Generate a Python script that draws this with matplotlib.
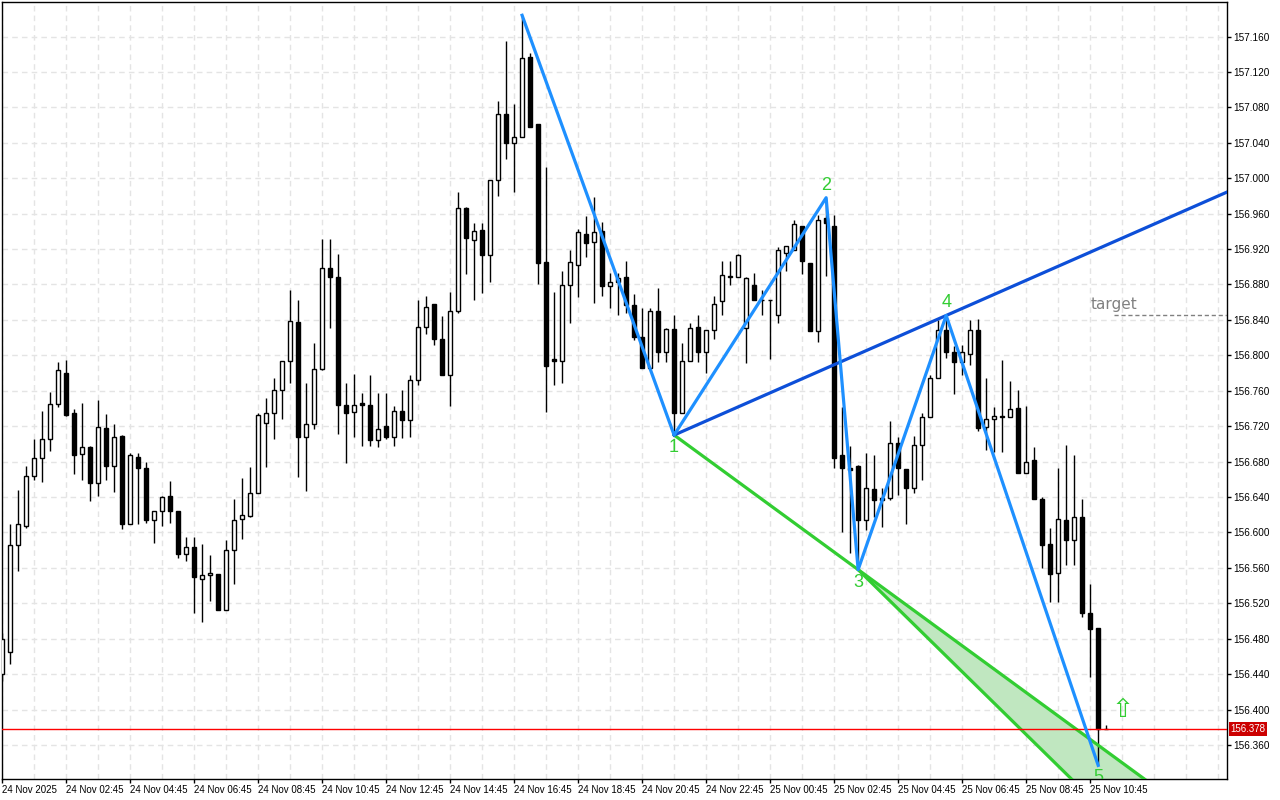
import matplotlib
matplotlib.use("Agg")
import matplotlib.pyplot as plt
import numpy as np

# M15 bars, index -1 = 24 Nov 00:45
first_bar = -1
opens = [156.440, 156.465, 156.586, 156.607, 156.664, 156.684, 156.705, 156.745, 156.780, 156.735,
         156.689, 156.696, 156.656, 156.718, 156.675, 156.709, 156.610, 156.685, 156.673, 156.614,
         156.624, 156.641, 156.624, 156.576, 156.584, 156.548, 156.552, 156.553, 156.513, 156.580,
         156.615, 156.619, 156.644, 156.724, 156.735, 156.761, 156.794, 156.838, 156.708, 156.723,
         156.785, 156.899, 156.889, 156.744, 156.736, 156.746, 156.744, 156.704, 156.720, 156.708,
         156.737, 156.727, 156.772, 156.832, 156.858, 156.819, 156.778, 156.850, 156.966, 156.930,
         156.941, 156.913, 156.998, 157.073, 157.040, 157.047, 157.137, 157.061, 156.905, 156.796,
         156.794, 156.879, 156.902, 156.937, 156.928, 156.940, 156.878, 156.883, 156.888, 156.857,
         156.821, 156.786, 156.850, 156.804, 156.830, 156.735, 156.794, 156.832, 156.804, 156.829,
         156.861, 156.889, 156.889, 156.831, 156.879, 156.863, 156.863, 156.846, 156.916, 156.919,
         156.946, 156.904, 156.827, 156.955, 156.946, 156.687, 156.673, 156.675, 156.614, 156.649,
         156.637, 156.639, 156.701, 156.672, 156.650, 156.699, 156.730, 156.774, 156.829, 156.804,
         156.793, 156.802, 156.829, 156.719, 156.728, 156.731, 156.730, 156.740, 156.667, 156.682,
         156.638, 156.587, 156.554, 156.614, 156.591, 156.617, 156.509, 156.492, 156.378]
highs = [156.486, 156.610, 156.648, 156.675, 156.705, 156.737, 156.759, 156.793, 156.795, 156.739,
         156.746, 156.698, 156.750, 156.734, 156.723, 156.710, 156.690, 156.690, 156.679, 156.624,
         156.641, 156.658, 156.624, 156.595, 156.595, 156.587, 156.574, 156.553, 156.591, 156.638,
         156.661, 156.674, 156.735, 156.752, 156.774, 156.794, 156.874, 156.863, 156.769, 156.814,
         156.931, 156.931, 156.914, 156.769, 156.779, 156.757, 156.778, 156.758, 156.757, 156.743,
         156.761, 156.778, 156.863, 156.867, 156.858, 156.844, 156.871, 156.984, 156.968, 156.950,
         156.950, 156.998, 157.087, 157.155, 157.084, 157.184, 157.141, 157.061, 157.013, 156.872,
         156.895, 156.919, 156.943, 156.957, 156.979, 156.951, 156.893, 156.893, 156.907, 156.869,
         156.853, 156.853, 156.876, 156.831, 156.845, 156.814, 156.837, 156.845, 156.829, 156.867,
         156.907, 156.907, 156.915, 156.889, 156.893, 156.874, 156.863, 156.922, 156.924, 156.953,
         156.946, 156.904, 156.959, 156.978, 156.959, 156.742, 156.698, 156.676, 156.690, 156.688,
         156.650, 156.726, 156.708, 156.672, 156.709, 156.735, 156.778, 156.840, 156.846, 156.810,
         156.812, 156.840, 156.841, 156.774, 156.742, 156.795, 156.771, 156.761, 156.743, 156.696,
         156.640, 156.605, 156.673, 156.699, 156.688, 156.638, 156.542, 156.492, 156.383]
lows = [156.432, 156.452, 156.556, 156.605, 156.659, 156.657, 156.692, 156.742, 156.732, 156.666,
        156.659, 156.635, 156.641, 156.659, 156.646, 156.604, 156.609, 156.609, 156.611, 156.588,
        156.607, 156.611, 156.571, 156.568, 156.509, 156.499, 156.523, 156.513, 156.513, 156.542,
        156.593, 156.618, 156.644, 156.674, 156.706, 156.728, 156.769, 156.663, 156.647, 156.717,
        156.784, 156.831, 156.711, 156.678, 156.708, 156.698, 156.698, 156.697, 156.706, 156.698,
        156.707, 156.708, 156.767, 156.824, 156.812, 156.778, 156.743, 156.848, 156.892, 156.863,
        156.870, 156.883, 156.980, 157.022, 156.984, 157.046, 157.058, 156.880, 156.736, 156.766,
        156.769, 156.837, 156.866, 156.911, 156.859, 156.867, 156.854, 156.845, 156.848, 156.817,
        156.786, 156.786, 156.792, 156.793, 156.710, 156.735, 156.794, 156.793, 156.780, 156.819,
        156.845, 156.879, 156.889, 156.791, 156.862, 156.846, 156.796, 156.837, 156.895, 156.919,
        156.892, 156.827, 156.815, 156.890, 156.673, 156.600, 156.577, 156.558, 156.603, 156.617,
        156.606, 156.637, 156.642, 156.609, 156.645, 156.659, 156.730, 156.774, 156.797, 156.756,
        156.778, 156.789, 156.715, 156.693, 156.691, 156.691, 156.730, 156.667, 156.667, 156.638,
        156.560, 156.522, 156.522, 156.563, 156.563, 156.504, 156.437, 156.337, 156.378]
closes = [156.480, 156.586, 156.609, 156.664, 156.684, 156.705, 156.745, 156.783, 156.733, 156.688,
          156.697, 156.656, 156.719, 156.675, 156.708, 156.610, 156.687, 156.673, 156.614, 156.624,
          156.640, 156.624, 156.576, 156.584, 156.550, 156.552, 156.554, 156.513, 156.580, 156.614,
          156.620, 156.644, 156.733, 156.735, 156.761, 156.794, 156.839, 156.708, 156.723, 156.785,
          156.899, 156.889, 156.744, 156.735, 156.744, 156.744, 156.704, 156.717, 156.708, 156.737,
          156.727, 156.772, 156.832, 156.855, 156.818, 156.778, 156.850, 156.966, 156.932, 156.940,
          156.913, 156.998, 157.073, 157.040, 157.047, 157.136, 157.058, 156.904, 156.788, 156.794,
          156.879, 156.905, 156.939, 156.927, 156.939, 156.878, 156.883, 156.887, 156.857, 156.821,
          156.786, 156.850, 156.804, 156.830, 156.735, 156.794, 156.831, 156.804, 156.829, 156.858,
          156.891, 156.890, 156.913, 156.887, 156.862, 156.862, 156.862, 156.919, 156.923, 156.948,
          156.906, 156.828, 156.953, 156.949, 156.684, 156.673, 156.671, 156.614, 156.650, 156.637,
          156.639, 156.701, 156.673, 156.650, 156.699, 156.730, 156.774, 156.829, 156.804, 156.792,
          156.804, 156.829, 156.718, 156.728, 156.731, 156.730, 156.739, 156.667, 156.679, 156.638,
          156.586, 156.553, 156.615, 156.591, 156.618, 156.509, 156.491, 156.378, 156.378]

# zigzag pivots: start, 1, 2, 3, 4, 5
zz_bars = [64, 83, 102, 106, 117, 136]
zz_prices = [157.184, 156.710, 156.978, 156.558, 156.845, 156.337]
wave_names = ["1", "2", "3", "4", "5"]
wave_below = [True, False, True, False, True]

target_price = 156.845
target_bar = 135
last_price = 156.378
signal_bar = 139
signal_price = 156.400

tick_bars = [-1, 7, 15, 23, 31, 39, 47, 55, 63, 71, 79, 87, 95, 103, 111, 119, 127, 135]
tick_labels = ["24 Nov 2025", "24 Nov 02:45", "24 Nov 04:45", "24 Nov 06:45", "24 Nov 08:45",
               "24 Nov 10:45", "24 Nov 12:45", "24 Nov 14:45", "24 Nov 16:45", "24 Nov 18:45",
               "24 Nov 20:45", "24 Nov 22:45", "25 Nov 00:45", "25 Nov 02:45", "25 Nov 04:45",
               "25 Nov 06:45", "25 Nov 08:45", "25 Nov 10:45"]

xmin, xmax = -1.0, 152.1
ymin, ymax = 156.3216, 157.199

o = np.array(opens); h = np.array(highs); l = np.array(lows); c = np.array(closes)
bars = np.arange(first_bar, first_bar + len(o))

fig = plt.figure(figsize=(12.8, 8), dpi=100)
ax = fig.add_axes([2/1280, 21/800, 1225/1280, 777/800])

# grid
for gx in np.arange(-1, 153, 4):
    ax.axvline(gx, color="#e4e4e4", lw=1, ls=(0, (4, 3)), zorder=0)
for gy in np.arange(156.36, 157.2, 0.04):
    ax.axhline(gy, color="#e4e4e4", lw=1, ls=(0, (4, 3)), zorder=0)

# wolfe channel fill
p1, p2, p3, p4 = [(zz_bars[i], zz_prices[i]) for i in range(1, 5)]
s13 = (p3[1] - p1[1]) / (p3[0] - p1[0])
s24 = (p4[1] - p2[1]) / (p4[0] - p2[0])
s14 = (p4[1] - p1[1]) / (p4[0] - p1[0])
xf = np.linspace(p3[0], xmax + 5, 50)
up_edge = p3[1] + s13 * (xf - p3[0])
lo_edge = p3[1] + s24 * (xf - p3[0])
ax.fill_between(xf, lo_edge, up_edge, color="#c0e7c0", lw=0, zorder=1)

# candles
up = c >= o
ax.vlines(bars, l, h, color="black", lw=1, zorder=2)
ax.bar(bars[up], (c - o)[up], bottom=o[up], width=0.55, facecolor="white",
       edgecolor="black", lw=1, zorder=3)
ax.bar(bars[~up], (o - c)[~up], bottom=c[~up], width=0.55, facecolor="black",
       edgecolor="black", lw=1, zorder=3)

# green lines 1-3 extended and parallel of 2-4 through 3
x13 = np.array([p1[0], xmax + 5])
ax.plot(x13, p1[1] + s13 * (x13 - p1[0]), color="#32cd32", lw=2.3, zorder=4)
ax.plot(xf, lo_edge, color="#32cd32", lw=2.3, zorder=4)

# 1-4 line
x14 = np.array([p1[0], xmax + 5])
ax.plot(x14, p1[1] + s14 * (x14 - p1[0]), color="#0d4fd8", lw=2.3, zorder=5)

# zigzag
ax.plot(zz_bars, zz_prices, color="#1e90ff", lw=2.3, zorder=6)

for name, bx, py, below in zip(wave_names, zz_bars[1:], zz_prices[1:], wave_below):
    ax.annotate(name, (bx, py), xytext=(0, -9 if below else 9), textcoords="offset points",
                ha="center", va="center", color="#32cd32", fontsize=13,
                family="Liberation Sans", zorder=7, annotation_clip=False, clip_on=True)

# target
ax.plot([target_bar + 3, xmax], [target_price, target_price], color="#808080", lw=1,
        ls=(0, (3, 2)), zorder=4)
ax.annotate("target", (target_bar, target_price), xytext=(0, 8), textcoords="offset points",
            ha="left", va="center", color="#808080", fontsize=11, family="DejaVu Sans")

# current price
ax.axhline(last_price, color="red", lw=1, zorder=5)
ax.annotate("%.3f" % last_price, xy=(1, last_price), xycoords=("axes fraction", "data"),
            xytext=(2.5, 0), textcoords="offset points", ha="left", va="center",
            color="white", fontsize=7, family="Liberation Sans",
            bbox=dict(boxstyle="square,pad=0.2", fc="#cc0000", ec="none"), annotation_clip=False)

# signal arrow
ax.text(signal_bar, signal_price, "\u21e7", color="#32cd32", fontsize=19, ha="center",
        va="center", family="DejaVu Sans", zorder=7)

ax.set_xlim(xmin, xmax)
ax.set_ylim(ymin, ymax)

ax.yaxis.tick_right()
yt = np.arange(156.36, 157.161, 0.04)
ax.set_yticks(yt)
ax.set_yticklabels(["%.3f" % v for v in yt], family="Liberation Sans", fontsize=7.2)
ax.set_xticks(tick_bars)
ax.set_xticklabels(tick_labels, family="Liberation Sans", fontsize=7)
for lab in ax.get_xticklabels():
    lab.set_ha("left")
ax.tick_params(axis="both", direction="out", length=3, width=1, pad=1.5, color="black")
for sp in ax.spines.values():
    sp.set_color("black")
    sp.set_linewidth(1)

fig.savefig("out.png", dpi=100, facecolor="white")
